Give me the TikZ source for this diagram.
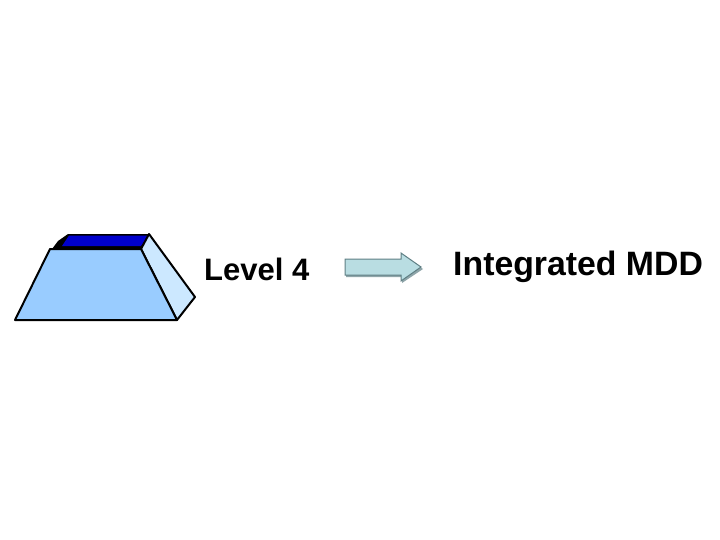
\documentclass[tikz,border=0pt]{standalone}
\usepackage{xcolor}
\usepackage{fontspec}
\setmainfont{Liberation Sans}
\usepackage{tikz}
\usetikzlibrary{positioning}
\definecolor{frontblue}{HTML}{99CCFF}
\definecolor{sideblue}{HTML}{CCE8FF}
\definecolor{topblue}{HTML}{0000CC}
\definecolor{arrowfill}{HTML}{B9DDE2}
\definecolor{arrowline}{HTML}{5F7F84}
\tikzset{
  face/.style={draw=black, line width=2pt, line join=round},
  label/.style={inner sep=0pt, anchor=west, text=black},
}
\begin{document}
\begin{tikzpicture}[x=1pt, y=-1pt]
        \useasboundingbox (0,0) rectangle (720,540);
        % trapezoid of the level
        \fill[black] (52,249) -- (58,241) -- (68,234) -- (149,234) -- (141,249) -- cycle;
        \fill[topblue] (62,246) -- (69,235.5) -- (148,235.5) -- (141,246) -- cycle;
        \draw[face, fill=sideblue] (141,249) -- (149,234) -- (195,297) -- (177,320) -- cycle;
        \draw[face, fill=frontblue] (15,320) -- (50,249) -- (141,249) -- (177,320) -- cycle;
        % texts and block arrow
        \node[label, font=\bfseries\fontsize{31}{31}\selectfont] (level) at (204,269) {Level 4};
        \node[label, font=\bfseries\fontsize{33.8}{34}\selectfont] (mdd) at (453,267) {Integrated MDD};
        \fill[arrowline!70] (346,261) -- (402,261) -- (402,255) -- (423,269) -- (402,283) -- (402,277) -- (346,277) -- cycle;
        \draw[arrowline, fill=arrowfill, line width=1pt] (345,259) -- (401,259) -- (401,253) -- (421,267) -- (401,281) -- (401,275) -- (345,275) -- cycle;
\end{tikzpicture}
\end{document}
